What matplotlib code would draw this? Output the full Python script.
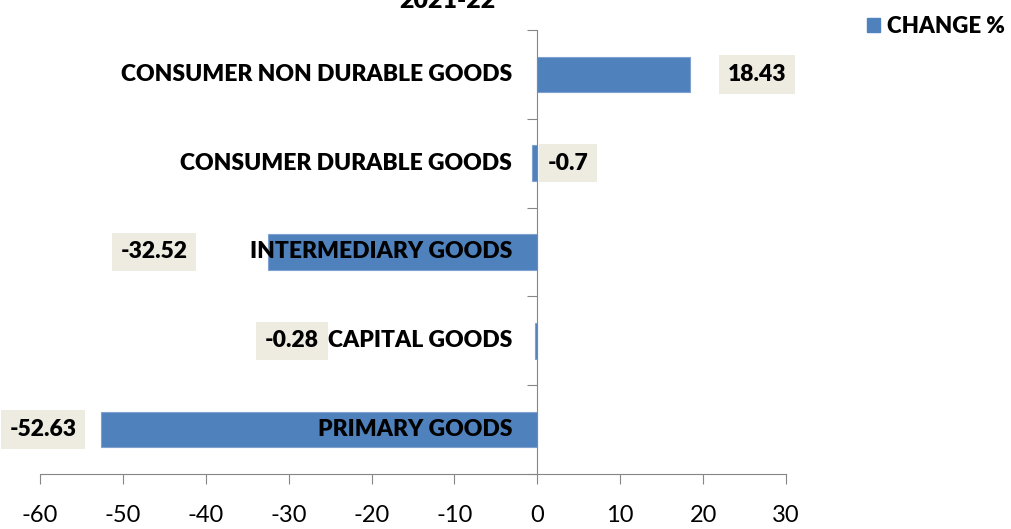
import matplotlib
matplotlib.use("Agg")
import matplotlib.pyplot as plt
from matplotlib.patches import Patch

plt.rcParams['font.family'] = ['Lato', 'DejaVu Sans']

categories = ["CONSUMER NON DURABLE GOODS", "CONSUMER DURABLE GOODS",
              "INTERMEDIARY GOODS", "CAPITAL GOODS", "PRIMARY GOODS"]
change = [18.43, -0.7, -32.52, -0.28, -52.63]
value_labels = ["18.43", "-0.7", "-32.52", "-0.28", "-52.63"]
xticks = [-60, -50, -40, -30, -20, -10, 0, 10, 20, 30]

# label offsets from bar end, in points (manually placed in the original)
label_dx = [48, 26, -82, -175, -42]

blue = "#4F81BD"
grey = "#868686"

fig = plt.figure(figsize=(10.12, 5.29), dpi=100)
ax = fig.add_axes([40/1012, 1-474/529, 746/1012, 444/529])

ypos = list(range(len(categories)))
ax.barh(ypos, change, height=0.4, color=blue, edgecolor="#7EA1CF", linewidth=0.8, zorder=2)
ax.set_ylim(len(categories)-0.5, -0.5)
ax.set_xlim(-60, 30)
ax.set_xticks(xticks)
ax.set_xticklabels([str(t) for t in xticks], fontsize=17)
ax.set_yticks([i - 0.5 for i in range(len(categories)+1)])
ax.set_yticklabels([])

for s in ['top', 'right']:
    ax.spines[s].set_visible(False)
ax.spines['left'].set_position(('data', 0))
ax.spines['left'].set_color(grey)
ax.spines['bottom'].set_color(grey)
ax.tick_params(axis='x', direction='out', length=7, color=grey, pad=15)
ax.tick_params(axis='y', direction='out', length=7, color=grey)

for i, cat in enumerate(categories):
    ax.annotate(cat, (0, i), xytext=(-18, 0), textcoords='offset points',
                ha='right', va='center', fontsize=16.5, fontweight='heavy', zorder=4)
    ax.annotate(value_labels[i], (change[i], i), xytext=(label_dx[i], 0),
                textcoords='offset points', ha='center', va='center',
                fontsize=16.5, fontweight='heavy', zorder=5,
                bbox=dict(boxstyle='square,pad=0.38', facecolor='#EEECE1', edgecolor='none'))

fig.text(447/1012, 1-8/529, "2021-22", ha='center', va='baseline',
         fontsize=18, fontweight='heavy')

fig.legend(handles=[Patch(color=blue, label="CHANGE %")], loc='upper right',
           bbox_to_anchor=(1.008, 1.0), frameon=False, handlelength=0.6,
           handleheight=0.6, handletextpad=0.3, borderaxespad=0.3,
           prop={'weight': 'heavy', 'size': 16})

fig.savefig("out.png", dpi=100)
